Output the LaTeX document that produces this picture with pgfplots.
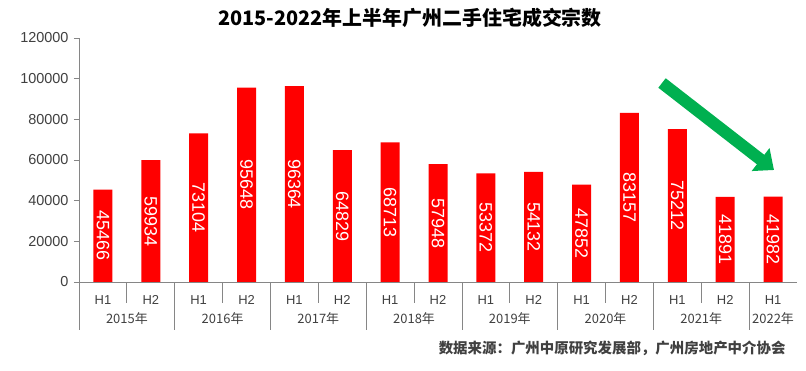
\documentclass[border=0pt]{standalone}
\usepackage{pgfplots}
\pgfplotsset{compat=1.18}
\usepackage{fontspec}
\setmainfont{Liberation Sans}
\newfontfamily\cjk{Noto Sans CJK SC}
\usetikzlibrary{arrows.meta}
\definecolor{barred}{RGB}{255,0,0}
\definecolor{axgray}{RGB}{134,134,134}
\definecolor{txtgray}{RGB}{64,64,64}
\definecolor{arrowgreen}{RGB}{0,176,80}
\begin{document}
\begin{tikzpicture}
\useasboundingbox (0,0) rectangle (806bp,371bp);
\begin{axis}[
  at={(79bp,89bp)}, anchor=south west,
  scale only axis, width=718bp, height=244bp,
  xmin=-0.5, xmax=14.5, ymin=0, ymax=120000,
  axis x line*=bottom, axis y line*=left,
  axis line style={draw=axgray, line width=0.8pt, -},
  ybar, bar width=19bp,
  ytick={0,20000,...,120000},
  scaled y ticks=false,
  yticklabel style={/pgf/number format/fixed, /pgf/number format/precision=0, /pgf/number format/1000 sep={}, /pgf/number format/assume math mode=true, font=\fontsize{14.5}{16}\selectfont, text=txtgray, xshift=-2bp},
  ytick style={draw=axgray, line width=0.8pt},
  tick align=outside, major tick length=5bp,
  xtick={0,...,14},
  xticklabels={H1,H2,H1,H2,H1,H2,H1,H2,H1,H2,H1,H2,H1,H2,H1},
  xtick style={draw=none},
  xticklabel style={anchor=center, yshift=-13bp, font=\fontsize{13}{15}\selectfont, text=txtgray},
  clip=false,
  point meta=explicit symbolic,
  nodes near coords={\pgfplotspointmeta},
  visualization depends on=y \as \rawy,
  every node near coord/.append style={shift={(axis direction cs:0,-\rawy/2)}, rotate=-90, anchor=center, text=white, font=\fontsize{18}{20}\selectfont},
]
\addplot[fill=barred, draw=none] coordinates {
(0,45466) [45466] (1,59934) [59934] (2,73104) [73104] (3,95648) [95648]
(4,96364) [96364] (5,64829) [64829] (6,68713) [68713] (7,57948) [57948]
(8,53372) [53372] (9,54132) [54132] (10,47852) [47852] (11,83157) [83157]
(12,75212) [75212] (13,41891) [41891] (14,41982) [41982]};
% separators
\tikzset{sep/.style={axgray, line width=0.8pt}}
\draw[sep] ([yshift=-48bp]axis cs:-0.5,0) -- (axis cs:-0.5,0);
\draw[sep] ([yshift=-48bp]axis cs:1.5,0) -- (axis cs:1.5,0);
\draw[sep] ([yshift=-48bp]axis cs:3.5,0) -- (axis cs:3.5,0);
\draw[sep] ([yshift=-48bp]axis cs:5.5,0) -- (axis cs:5.5,0);
\draw[sep] ([yshift=-48bp]axis cs:7.5,0) -- (axis cs:7.5,0);
\draw[sep] ([yshift=-48bp]axis cs:9.5,0) -- (axis cs:9.5,0);
\draw[sep] ([yshift=-48bp]axis cs:11.5,0) -- (axis cs:11.5,0);
\draw[sep] ([yshift=-48bp]axis cs:13.5,0) -- (axis cs:13.5,0);
\draw[sep] ([yshift=-21bp]axis cs:0.5,0) -- (axis cs:0.5,0);
\draw[sep] ([yshift=-21bp]axis cs:2.5,0) -- (axis cs:2.5,0);
\draw[sep] ([yshift=-21bp]axis cs:4.5,0) -- (axis cs:4.5,0);
\draw[sep] ([yshift=-21bp]axis cs:6.5,0) -- (axis cs:6.5,0);
\draw[sep] ([yshift=-21bp]axis cs:8.5,0) -- (axis cs:8.5,0);
\draw[sep] ([yshift=-21bp]axis cs:10.5,0) -- (axis cs:10.5,0);
\draw[sep] ([yshift=-21bp]axis cs:12.5,0) -- (axis cs:12.5,0);
% year labels
\tikzset{yl/.style={font=\cjk\fontsize{13}{15}\selectfont, text=txtgray, anchor=center, yshift=-37bp}}
\node[yl] at (axis cs:0.5,0) {2015年};
\node[yl] at (axis cs:2.5,0) {2016年};
\node[yl] at (axis cs:4.5,0) {2017年};
\node[yl] at (axis cs:6.5,0) {2018年};
\node[yl] at (axis cs:8.5,0) {2019年};
\node[yl] at (axis cs:10.5,0) {2020年};
\node[yl] at (axis cs:12.5,0) {2021年};
\node[yl] at (axis cs:14,0) {2022年};
\end{axis}
\node[font=\cjk\bfseries\fontsize{20}{22}\selectfont, anchor=center] at (410bp,353bp) {2015-2022年上半年广州二手住宅成交宗数};
\node[font=\cjk\bfseries\fontsize{14.5}{16}\selectfont, text=txtgray, anchor=east] at (789bp,23bp) {数据来源：广州中原研究发展部，广州房地产中介协会};
\draw[line width=12bp, arrowgreen, -{Triangle[width=28bp,length=17bp]}] (662bp,288bp) -- (774bp,201bp);
\end{tikzpicture}
\end{document}
